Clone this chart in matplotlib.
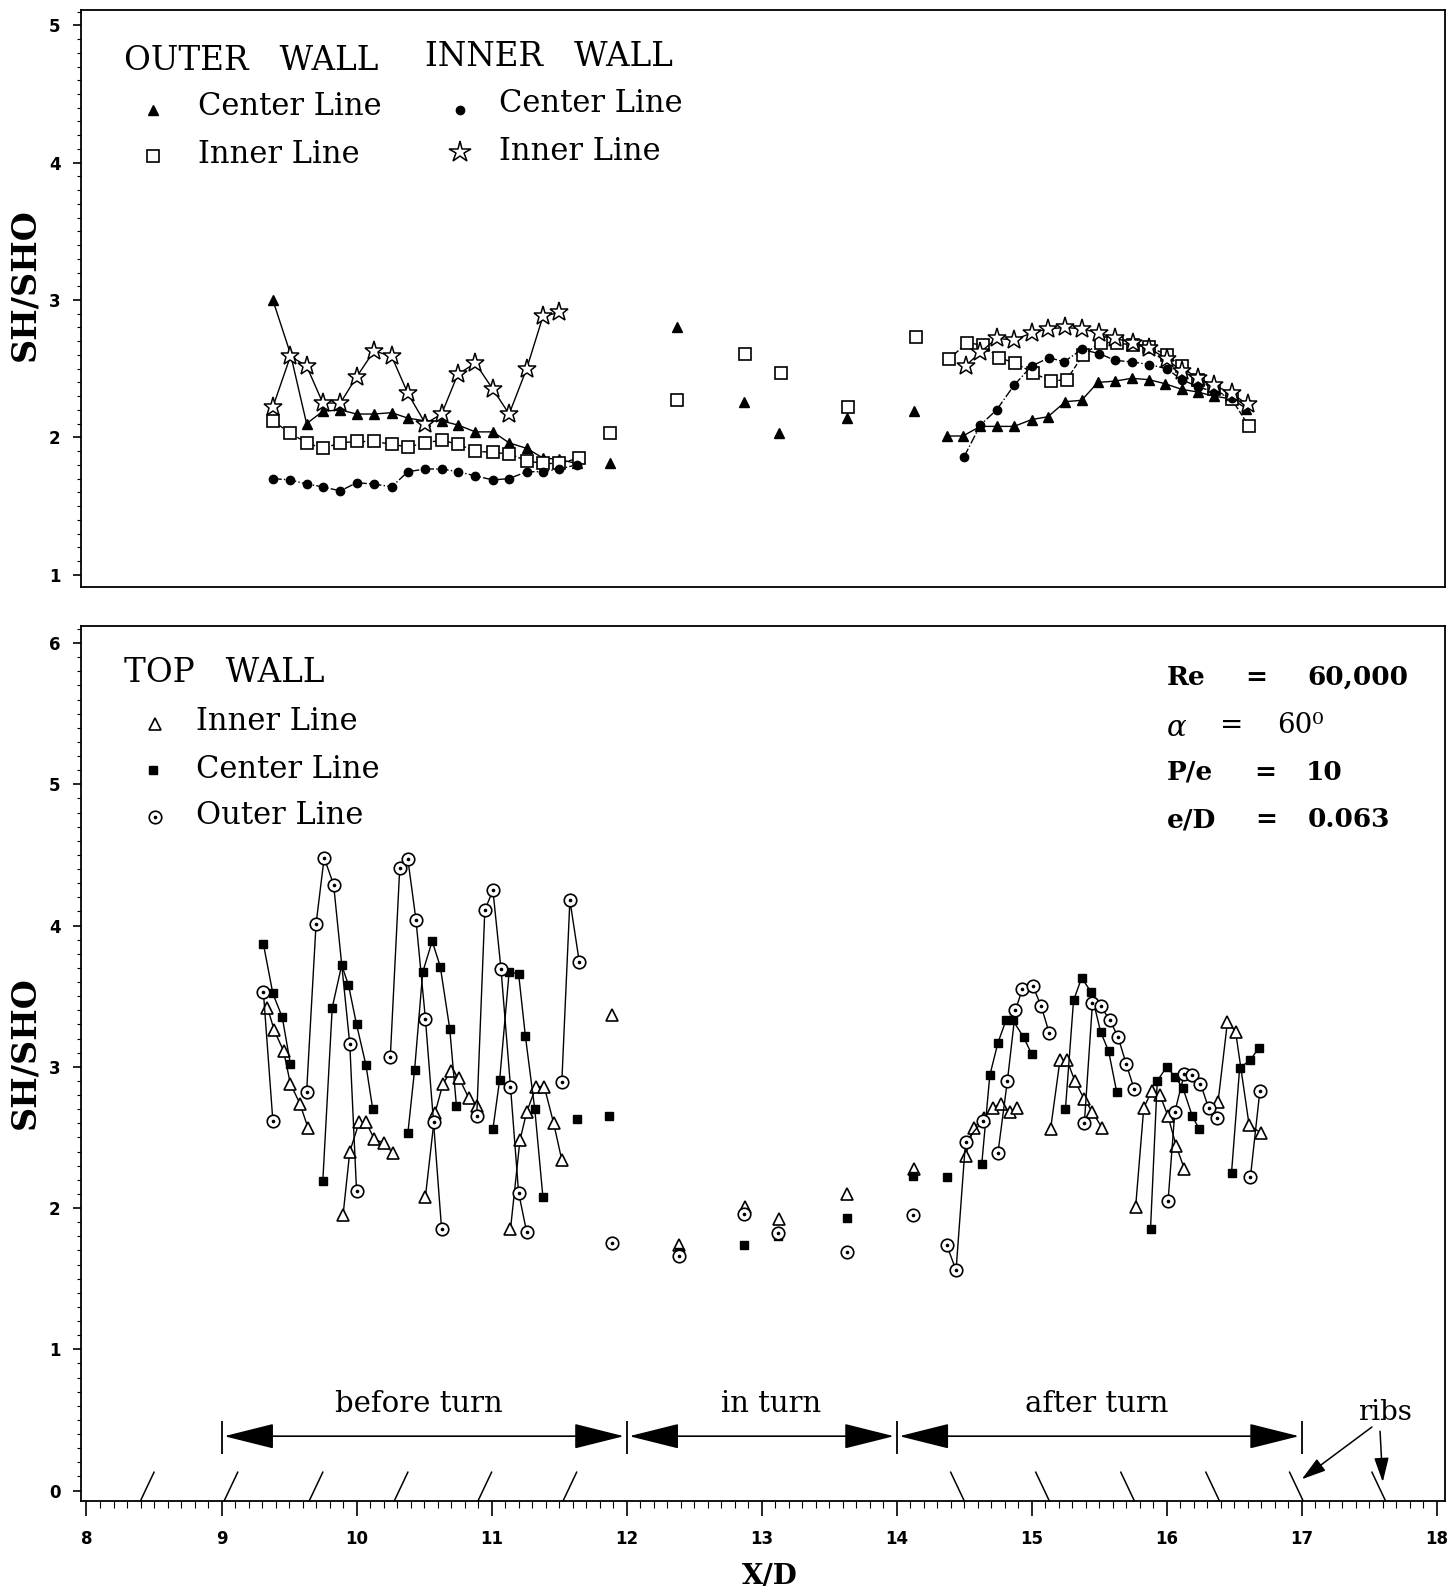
import numpy as np
import matplotlib
matplotlib.use("Agg")
import matplotlib.pyplot as plt
from matplotlib.patches import FancyArrowPatch
from matplotlib.ticker import MultipleLocator

nan = np.nan

# ---------------- top panel: outer / inner wall ----------------
# outer wall, center line (filled triangles)
ow_center_x = [9.38, 9.51, 9.63, 9.75, 9.88, 10.00, 10.13, 10.26, 10.38, 10.51, 10.63, 10.75, 10.88, 11.01, 11.13, 11.26, 11.38, 11.50, 11.63,
               nan, 11.88, nan, 12.37, nan, 12.87, nan, 13.13, nan, 13.63, nan, 14.13, nan,
               14.37, 14.49, 14.62, 14.74, 14.87, 15.00, 15.12, 15.25, 15.37, 15.49, 15.62, 15.74, 15.87, 15.99, 16.11, 16.23, 16.35, 16.48, 16.59]
ow_center_y = [3.00, 2.61, 2.10, 2.19, 2.20, 2.17, 2.17, 2.18, 2.14, 2.12, 2.12, 2.09, 2.04, 2.04, 1.96, 1.92, 1.85, 1.84, 1.81,
               nan, 1.81, nan, 2.80, nan, 2.26, nan, 2.03, nan, 2.14, nan, 2.19, nan,
               2.01, 2.01, 2.08, 2.08, 2.08, 2.13, 2.15, 2.26, 2.27, 2.40, 2.41, 2.43, 2.42, 2.39, 2.35, 2.33, 2.30, 2.28, 2.21]

# outer wall, inner line (open squares)
ow_inner_x = [9.38, 9.51, 9.63, 9.75, 9.88, 10.00, 10.13, 10.26, 10.38, 10.51, 10.63, 10.75, 10.88, 11.01, 11.13, 11.26, 11.38, 11.50, 11.65,
              nan, 11.88, nan, 12.37, nan, 12.88, nan, 13.14, nan, 13.64, nan, 14.14, nan,
              14.39, 14.52, 14.64, 14.76, 14.88, 15.01, 15.14, 15.26, 15.38, 15.51, 15.63, 15.75, 15.87, 16.00, 16.11, 16.23, 16.35, 16.48, 16.61]
ow_inner_y = [2.12, 2.03, 1.96, 1.92, 1.96, 1.97, 1.97, 1.95, 1.93, 1.96, 1.98, 1.95, 1.90, 1.89, 1.88, 1.83, 1.81, 1.81, 1.85,
              nan, 2.03, nan, 2.27, nan, 2.61, nan, 2.47, nan, 2.22, nan, 2.73, nan,
              2.57, 2.69, 2.67, 2.58, 2.54, 2.47, 2.41, 2.42, 2.60, 2.69, 2.69, 2.67, 2.66, 2.60, 2.52, 2.42, 2.35, 2.28, 2.08]

# inner wall, center line (filled circles)
iw_center_x = [9.38, 9.51, 9.63, 9.75, 9.88, 10.00, 10.13, 10.26, 10.38, 10.51, 10.63, 10.75, 10.88, 11.01, 11.13, 11.26, 11.38, 11.50, 11.63,
               nan, 14.50, 14.62, 14.74, 14.87, 15.00, 15.13, 15.24, 15.37, 15.50, 15.62, 15.74, 15.87, 16.00, 16.11, 16.23, 16.35, 16.48, 16.60]
iw_center_y = [1.70, 1.69, 1.66, 1.64, 1.61, 1.67, 1.66, 1.64, 1.75, 1.77, 1.77, 1.75, 1.72, 1.69, 1.70, 1.75, 1.75, 1.77, 1.80,
               nan, 1.86, 2.09, 2.20, 2.38, 2.52, 2.58, 2.55, 2.64, 2.61, 2.56, 2.55, 2.53, 2.50, 2.42, 2.37, 2.33, 2.29, 2.24]

# inner wall, inner line (open stars)
iw_inner_x = [9.38, 9.51, 9.63, 9.75, 9.88, 10.00, 10.13, 10.26, 10.38, 10.51, 10.63, 10.75, 10.88, 11.01, 11.13, 11.26, 11.38, 11.50,
              nan, 14.51, 14.62, 14.74, 14.87, 15.00, 15.12, 15.25, 15.37, 15.50, 15.62, 15.75, 15.87, 16.00, 16.11, 16.23, 16.35, 16.48, 16.60]
iw_inner_y = [2.22, 2.59, 2.52, 2.25, 2.25, 2.44, 2.63, 2.59, 2.32, 2.10, 2.17, 2.46, 2.54, 2.35, 2.17, 2.50, 2.88, 2.91,
              nan, 2.52, 2.62, 2.72, 2.71, 2.76, 2.79, 2.80, 2.79, 2.76, 2.72, 2.69, 2.65, 2.57, 2.48, 2.43, 2.38, 2.32, 2.24]

# ---------------- bottom panel: top wall ----------------
# inner line (open triangles)
tw_inner_x = [9.34, 9.39, 9.46, 9.51, 9.58, 9.64, nan,
              9.90, 9.95, 10.02, 10.07, 10.13, 10.20, 10.27, nan,
              10.51, 10.58, 10.64, 10.70, 10.76, 10.83, 10.89, nan,
              11.14, 11.21, 11.26, 11.33, 11.39, 11.46, 11.52, nan,
              11.89, nan, 12.39, nan, 12.88, nan, 13.13, nan, 13.63, nan, 14.13, nan,
              14.51, 14.57, 14.65, 14.71, 14.77, 14.84, 14.89, nan,
              15.14, 15.21, 15.26, 15.32, 15.39, 15.45, 15.52, nan,
              15.77, 15.83, 15.89, 15.95, 16.01, 16.07, 16.13, nan,
              16.38, 16.45, 16.51, 16.61, 16.70]
tw_inner_y = [3.42, 3.26, 3.11, 2.88, 2.74, 2.57, nan,
              1.95, 2.40, 2.61, 2.61, 2.49, 2.46, 2.39, nan,
              2.08, 2.67, 2.88, 2.97, 2.92, 2.78, 2.72, nan,
              1.85, 2.48, 2.68, 2.86, 2.86, 2.60, 2.34, nan,
              3.37, nan, 1.74, nan, 2.01, nan, 1.92, nan, 2.10, nan, 2.28, nan,
              2.37, 2.57, 2.64, 2.71, 2.74, 2.68, 2.71, nan,
              2.56, 3.05, 3.05, 2.90, 2.77, 2.68, 2.57, nan,
              2.01, 2.71, 2.83, 2.80, 2.65, 2.44, 2.28, nan,
              2.75, 3.32, 3.25, 2.59, 2.53]

# center line (filled squares)
tw_center_x = [9.31, 9.38, 9.45, 9.51, nan,
               9.75, 9.82, 9.89, 9.94, 10.00, 10.07, 10.12, nan,
               10.38, 10.43, 10.49, 10.56, 10.62, 10.69, 10.74, nan,
               11.01, 11.06, 11.13, 11.20, 11.25, 11.32, 11.38, nan,
               11.63, nan, 11.87, nan, 12.39, nan, 12.87, nan, 13.12, nan, 13.63, nan, 14.12, nan, 14.37, nan,
               14.63, 14.69, 14.75, 14.81, 14.86, 14.94, 15.00, nan,
               15.25, 15.31, 15.37, 15.44, 15.51, 15.57, 15.63, nan,
               15.88, 15.93, 16.00, 16.06, 16.12, 16.19, 16.24, nan,
               16.48, 16.54, 16.62, 16.68]
tw_center_y = [3.87, 3.52, 3.35, 3.02, nan,
               2.19, 3.42, 3.72, 3.58, 3.30, 3.01, 2.70, nan,
               2.53, 2.98, 3.67, 3.89, 3.71, 3.27, 2.72, nan,
               2.56, 2.91, 3.67, 3.66, 3.22, 2.70, 2.08, nan,
               2.63, nan, 2.65, nan, 1.69, nan, 1.74, nan, 1.80, nan, 1.93, nan, 2.23, nan, 2.22, nan,
               2.31, 2.94, 3.17, 3.33, 3.33, 3.21, 3.09, nan,
               2.70, 3.47, 3.63, 3.53, 3.25, 3.11, 2.82, nan,
               1.85, 2.90, 3.00, 2.93, 2.85, 2.65, 2.56, nan,
               2.25, 2.99, 3.05, 3.13]

# outer line (open circles with dot)
tw_outer_x = [9.31, 9.38, nan,
              9.63, 9.70, 9.76, 9.83, 9.95, 10.00, nan,
              10.25, 10.32, 10.38, 10.44, 10.51, 10.57, 10.63, nan,
              10.89, 10.95, 11.01, 11.07, 11.14, 11.20, 11.26, nan,
              11.52, 11.58, 11.65, nan,
              11.89, nan, 12.39, nan, 12.87, nan, 13.12, nan, 13.63, nan, 14.12, nan,
              14.37, 14.44, 14.51, 14.64, nan,
              14.75, 14.82, 14.88, 14.93, 15.01, 15.07, 15.13, nan,
              15.39, 15.45, 15.51, 15.58, 15.64, 15.70, 15.76, nan,
              16.01, 16.06, 16.13, 16.19, 16.25, 16.31, 16.37, nan,
              16.62, 16.69]
tw_outer_y = [3.53, 2.62, nan,
              2.82, 4.01, 4.48, 4.29, 3.16, 2.12, nan,
              3.07, 4.41, 4.47, 4.04, 3.34, 2.61, 1.85, nan,
              2.65, 4.11, 4.25, 3.69, 2.86, 2.11, 1.83, nan,
              2.89, 4.18, 3.74, nan,
              1.75, nan, 1.66, nan, 1.96, nan, 1.82, nan, 1.69, nan, 1.95, nan,
              1.74, 1.56, 2.47, 2.62, nan,
              2.39, 2.90, 3.40, 3.55, 3.57, 3.43, 3.24, nan,
              2.60, 3.45, 3.43, 3.33, 3.21, 3.02, 2.84, nan,
              2.05, 2.68, 2.95, 2.94, 2.88, 2.71, 2.64, nan,
              2.22, 2.83]

# rib positions along the axis and turn region limits
ribs_before = [8.40, 9.02, 9.65, 10.28, 10.90, 11.53]
ribs_after = [14.50, 15.13, 15.76, 16.39, 17.01, 17.62]
region_edges = [9.0, 12.0, 14.0, 17.0]
region_labels = ["before turn", "in turn", "after turn"]
region_label_x = [10.46, 13.07, 15.48]

SERIF = "DejaVu Serif"
plt.rcParams["font.family"] = SERIF


def style_ticklabels(ax):
    for lab in ax.get_xticklabels() + ax.get_yticklabels():
        lab.set_fontfamily("DejaVu Sans")
        lab.set_fontweight("bold")
        lab.set_fontsize(12)


fig = plt.figure(figsize=(14.53, 15.95), dpi=100)
ax1 = fig.add_axes([0.056, 0.632, 0.9384, 0.3617])
ax2 = fig.add_axes([0.056, 0.0591, 0.9384, 0.5486])

for ax in (ax1, ax2):
    ax.set_xlim(7.962, 18.06)
    for s in ax.spines.values():
        s.set_linewidth(1.3)
    ax.yaxis.set_minor_locator(MultipleLocator(0.1))
    ax.tick_params(axis="y", which="major", direction="out", length=6, width=1.2, pad=9)
    ax.tick_params(axis="y", which="minor", direction="out", length=3, width=0.8)

# ---- top panel ----
ax1.set_ylim(0.911, 5.111)
ax1.set_yticks([1, 2, 3, 4, 5])
ax1.tick_params(axis="x", which="both", bottom=False, labelbottom=False)
style_ticklabels(ax1)

ax1.plot(ow_center_x, ow_center_y, color="k", lw=1.0, ls="-", marker="^", ms=7, mfc="k", mec="k")
ax1.plot(ow_inner_x, ow_inner_y, color="k", lw=1.0, ls="--", marker="s", ms=8, mfc="white", mec="k", mew=1.2)
ax1.plot(iw_center_x, iw_center_y, color="k", lw=1.0, ls="-.", marker="o", ms=6, mfc="k", mec="k")
ax1.plot(iw_inner_x, iw_inner_y, color="k", lw=1.0, ls="-", marker="*", ms=14, mfc="white", mec="k", mew=1.1)

LEG = 22
CAP = 23.5
ax1.text(8.279, 4.74, "OUTER   WALL", fontsize=CAP, va="center", ha="left")
ax1.text(10.509, 4.77, "INNER   WALL", fontsize=CAP, va="center", ha="left")
ax1.plot([8.49], [4.385], marker="^", ms=7, color="k", ls="none")
ax1.text(8.829, 4.407, "Center Line", fontsize=LEG, va="center", ha="left")
ax1.plot([10.766], [4.385], marker="o", ms=6, color="k", ls="none")
ax1.text(11.052, 4.43, "Center Line", fontsize=LEG, va="center", ha="left")
ax1.plot([8.49], [4.05], marker="s", ms=8, mfc="white", mec="k", mew=1.2, ls="none")
ax1.text(8.829, 4.06, "Inner Line", fontsize=LEG, va="center", ha="left")
ax1.plot([10.766], [4.074], marker="*", ms=16, mfc="white", mec="k", mew=1.1, ls="none")
ax1.text(11.052, 4.081, "Inner Line", fontsize=LEG, va="center", ha="left")

# ---- bottom panel ----
ax2.set_ylim(-0.072, 6.123)
ax2.set_yticks([0, 1, 2, 3, 4, 5, 6])
ax2.set_xticks(range(8, 19))
ax2.xaxis.set_minor_locator(MultipleLocator(0.1))
ax2.tick_params(axis="x", which="major", direction="out", length=11, width=1.2, pad=10)
ax2.tick_params(axis="x", which="minor", direction="out", length=5, width=0.8)
style_ticklabels(ax2)

ax2.plot(tw_inner_x, tw_inner_y, color="k", lw=1.0, marker="^", ms=8, mfc="white", mec="k", mew=1.2)
ax2.plot(tw_center_x, tw_center_y, color="k", lw=1.0, marker="s", ms=6, mfc="k", mec="k")
ax2.plot(tw_outer_x, tw_outer_y, color="k", lw=1.0, marker="o", ms=9, mfc="white", mec="k", mew=1.2)
ax2.plot(tw_outer_x, tw_outer_y, ls="none", marker="o", ms=1.6, color="k")

ax2.text(8.279, 5.79, "TOP   WALL", fontsize=CAP, va="center", ha="left")
ax2.plot([8.505], [5.425], marker="^", ms=8, mfc="white", mec="k", mew=1.2, ls="none")
ax2.text(8.814, 5.447, "Inner Line", fontsize=LEG, va="center", ha="left")
ax2.plot([8.49], [5.10], marker="s", ms=6, color="k", ls="none")
ax2.text(8.814, 5.108, "Center Line", fontsize=LEG, va="center", ha="left")
ax2.plot([8.505], [4.77], marker="o", ms=9, mfc="white", mec="k", mew=1.2, ls="none")
ax2.plot([8.505], [4.77], marker="o", ms=1.6, color="k", ls="none")
ax2.text(8.814, 4.777, "Outer Line", fontsize=LEG, va="center", ha="left")

# flow parameters
BF = dict(fontsize=19, fontweight="bold", va="center")
ax2.text(16.003, 5.757, "Re", ha="left", **BF)
ax2.text(16.666, 5.757, "=", ha="center", **BF)
ax2.text(17.043, 5.757, "60,000", ha="left", **BF)
ax2.text(16.003, 5.40, "α", fontsize=21, style="italic", va="center", ha="left")
ax2.text(16.478, 5.418, "=", fontsize=20, va="center", ha="center")
ax2.text(16.817, 5.418, "60⁰", fontsize=20, va="center", ha="left")
ax2.text(16.003, 5.086, "P/e", ha="left", **BF)
ax2.text(16.727, 5.086, "=", ha="center", **BF)
ax2.text(17.028, 5.086, "10", ha="left", **BF)
ax2.text(16.003, 4.748, "e/D", ha="left", **BF)
ax2.text(16.74, 4.748, "=", ha="center", **BF)
ax2.text(17.043, 4.748, "0.063", ha="left", **BF)

# turn regions: bars, double arrows and labels
ax2.vlines(region_edges, 0.26, 0.49, color="k", lw=1.3)
for i, lab in enumerate(region_labels):
    x0, x1 = region_edges[i], region_edges[i + 1]
    arr = FancyArrowPatch((x0 + 0.02, 0.385), (x1 - 0.02, 0.385),
                          arrowstyle="<|-|>,head_length=1.6,head_width=0.4",
                          mutation_scale=20, color="k", lw=1.2, shrinkA=0, shrinkB=0)
    ax2.add_patch(arr)
    ax2.text(region_label_x[i], 0.61, lab, fontsize=21, ha="center", va="center")

# ribs drawn on the axis
for xr in ribs_before:
    ax2.plot([xr, xr + 0.1], [-0.072, 0.13], color="k", lw=1.1, clip_on=False)
for xr in ribs_after:
    ax2.plot([xr, xr - 0.1], [-0.072, 0.13], color="k", lw=1.1, clip_on=False)

ax2.text(17.62, 0.55, "ribs", fontsize=20, ha="center", va="center")
ax2.annotate("", xy=(17.0, 0.08), xytext=(17.52, 0.45),
             arrowprops=dict(arrowstyle="-|>,head_length=1.0,head_width=0.3", color="k", lw=1.1,
                             mutation_scale=15, shrinkA=0, shrinkB=0))
ax2.annotate("", xy=(17.6, 0.06), xytext=(17.58, 0.42),
             arrowprops=dict(arrowstyle="-|>,head_length=1.0,head_width=0.3", color="k", lw=1.1,
                             mutation_scale=15, shrinkA=0, shrinkB=0))

# axis titles
fig.text(0.0168, 0.8213, "SH/SHO", rotation=90, fontsize=24, fontweight="bold",
         ha="center", va="center")
fig.text(0.0168, 0.3398, "SH/SHO", rotation=90, fontsize=24, fontweight="bold",
         ha="center", va="center")
fig.text(0.530, 0.0113, "X/D", fontsize=20, fontweight="bold", ha="center", va="center")

fig.savefig("out.png", dpi=100)
